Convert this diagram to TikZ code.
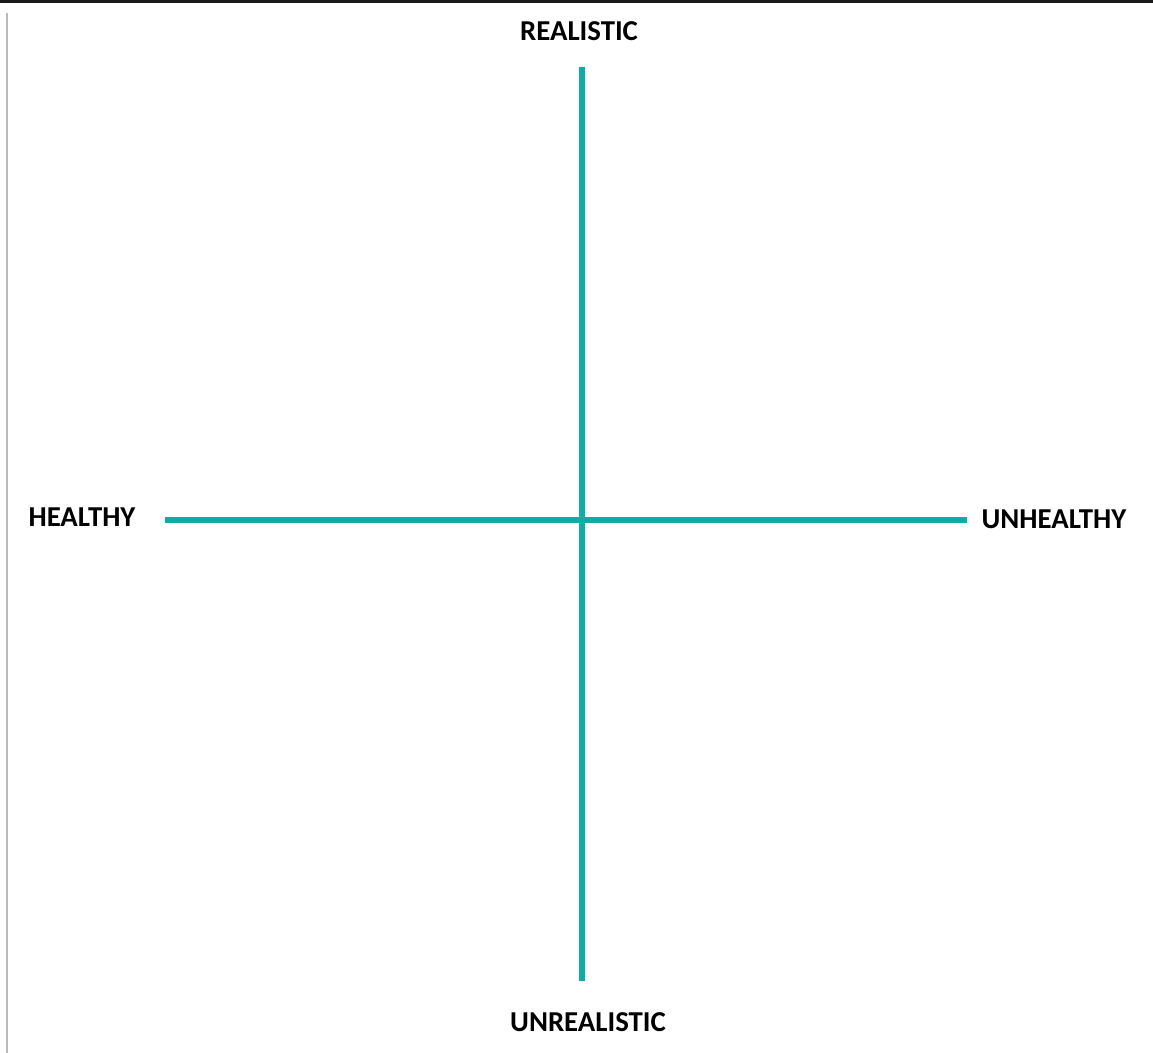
\documentclass[tikz,border=0pt]{standalone}
\usepackage{fontspec}
\setmainfont{Carlito}
\definecolor{axisteal}{RGB}{14,172,164}
\definecolor{framegray}{RGB}{185,185,185}
\begin{document}
\begin{tikzpicture}[x=0.025cm,y=-0.025cm,
  axis/.style={draw=axisteal, line width=6*0.025cm},
  pole/.style={font=\fontsize{20.5}{23}\selectfont\bfseries, inner sep=0pt}]
  \useasboundingbox (0,0) rectangle (1153,1053);
  % frame bits
  \fill[black!90] (0,0) rectangle (1153,2.6);
  \draw[framegray, line width=1.4*0.025cm] (6.8,13) -- (6.8,1053);
  % the two axes
  \coordinate (top) at (582,67);
  \coordinate (bottom) at (582,981);
  \coordinate (left) at (165,519.5);
  \coordinate (right) at (967,519.5);
  \draw[axis] (top) -- (bottom);
  \draw[axis] (left) -- (right);
  % pole labels
  \node[pole] (real) at (579,31) {REALISTIC};
  \node[pole] (unreal) at (588,1022) {UNREALISTIC};
  \node[pole] (healthy) at (82,517) {HEALTHY};
  \node[pole] (unhealthy) at (1054,519) {UNHEALTHY};
\end{tikzpicture}
\end{document}
